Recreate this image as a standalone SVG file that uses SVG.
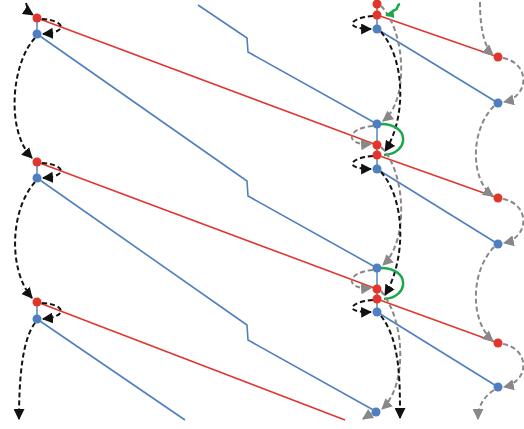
<svg xmlns="http://www.w3.org/2000/svg" width="524" height="429" viewBox="0 0 524 429">
<style>
.r{stroke:#e0372c;stroke-width:1.6;fill:none}
.b{stroke:#4f7fbf;stroke-width:1.6;fill:none}
.lb{stroke:#7ea2d6;stroke-width:2;fill:none}
.lr{stroke:#e86a60;stroke-width:2;fill:none}
.k{stroke:#111;stroke-width:2;fill:none;stroke-dasharray:5,3;marker-end:url(#ak)}
.g{stroke:#888;stroke-width:2;fill:none;stroke-dasharray:5,3;marker-end:url(#ag)}
.gr{stroke:#1aa84a;stroke-width:2.5;fill:none}
.nr{fill:#e0372c}
.nb{fill:#4f7fbf}
</style>
<defs>
<marker id="ak" viewBox="0 0 10 10" refX="9" refY="5" markerWidth="5.5" markerHeight="5.5" orient="auto" markerUnits="strokeWidth"><path d="M0,0L10,5L0,10z" fill="#111"/></marker>
<marker id="ag" viewBox="0 0 10 10" refX="9" refY="5" markerWidth="5.5" markerHeight="5.5" orient="auto" markerUnits="strokeWidth"><path d="M0,0L10,5L0,10z" fill="#888"/></marker>
<marker id="agr" viewBox="0 0 10 10" refX="9" refY="5" markerWidth="3.5" markerHeight="3.5" orient="auto" markerUnits="strokeWidth"><path d="M0,0L10,5L0,10z" fill="#1aa84a"/></marker>
</defs>
<g id="connectors">
<path class="r" d="M37,18L377,145"/>
<path class="r" d="M37,162L377,289"/>
<path class="r" d="M37,302L345,420"/>
<path class="r" d="M377,15L498,57"/>
<path class="r" d="M377,155L498,198"/>
<path class="r" d="M377,299L498,343"/>
<path class="b" d="M198,5L247,38L248,52L377,124"/>
<path class="b" d="M37,34L247,181L248,196L377,268"/>
<path class="b" d="M37,178L247,325L248,340L377,412"/>
<path class="b" d="M37,319L185,420"/>
<path class="b" d="M377,29L498,103"/>
<path class="b" d="M377,169L498,244"/>
<path class="b" d="M377,312L498,387"/>
<path class="lb" d="M37,18V34M37,162V178M37,302V319"/>
<path class="lr" d="M377,4V15M377,145V155M377,289V299"/>
<path class="lb" d="M377,15V29M377,124V145M377,155V169M377,268V289M377,299V312"/>
<path class="k" d="M26,3C28,10 30,13 33,15"/>
<path class="k" d="M42,19C64,20 70,32 43,34"/>
<path class="k" d="M35,38C12,62 5,130 32,158"/>
<path class="k" d="M42,163C64,164 70,176 43,178"/>
<path class="k" d="M35,182C10,210 8,270 32,298"/>
<path class="k" d="M42,303C64,304 70,316 43,319"/>
<path class="k" d="M35,323C22,340 19,380 19,419"/>
<path class="g" d="M381,6C405,30 410,100 383,121"/>
<path class="k" d="M373,16C348,18 344,29 371,29"/>
<path class="k" d="M381,32C406,60 406,120 385,151"/>
<path class="g" d="M373,126C346,128 344,146 371,144"/>
<path class="gr" d="M381,124C410,124 410,153 384,155"/>
<path class="gr" stroke-width="2.2" d="M400,4C396,5 399,9 395,10C391,11 393,14 386,15" marker-end="url(#agr)"/>
<path class="g" d="M381,147C405,170 410,240 383,265"/>
<path class="k" d="M373,156C348,158 344,169 371,169"/>
<path class="k" d="M381,172C406,200 406,260 385,295"/>
<path class="g" d="M373,270C346,272 344,290 371,288"/>
<path class="gr" d="M381,268C410,268 410,297 384,299"/>
<path class="g" d="M381,291C405,320 408,385 382,409"/>
<path class="k" d="M373,300C348,302 344,313 371,312"/>
<path class="k" d="M381,316C400,340 400,380 400,418"/>
<path class="g" d="M372,414C368,415 366,417 363,419"/>
<path class="g" d="M480,2C480,30 485,48 493,55"/>
<path class="g" d="M503,58C530,63 530,96 504,102"/>
<path class="g" d="M494,106C470,130 470,180 493,196"/>
<path class="g" d="M503,199C530,204 530,237 504,243"/>
<path class="g" d="M494,247C470,272 470,322 493,341"/>
<path class="g" d="M503,344C530,349 530,381 504,387"/>
<path class="g" d="M494,390C482,398 478,408 478,419"/>
</g>
<g id="n-l1r"><circle class="nr" cx="37" cy="18" r="4.5"/></g>
<g id="n-l1b"><circle class="nb" cx="37" cy="34" r="4.5"/></g>
<g id="n-l2r"><circle class="nr" cx="37" cy="162" r="4.5"/></g>
<g id="n-l2b"><circle class="nb" cx="37" cy="178" r="4.5"/></g>
<g id="n-l3r"><circle class="nr" cx="37" cy="302" r="4.5"/></g>
<g id="n-l3b"><circle class="nb" cx="37" cy="319" r="4.5"/></g>
<g id="n-m0r"><circle class="nr" cx="377" cy="4" r="4.5"/></g>
<g id="n-m1r"><circle class="nr" cx="377" cy="15" r="4.5"/></g>
<g id="n-m1b"><circle class="nb" cx="377" cy="29" r="4.5"/></g>
<g id="n-m2b"><circle class="nb" cx="377" cy="124" r="4.5"/></g>
<g id="n-m2r"><circle class="nr" cx="377" cy="145" r="4.5"/></g>
<g id="n-m3r"><circle class="nr" cx="377" cy="155" r="4.5"/></g>
<g id="n-m3b"><circle class="nb" cx="377" cy="169" r="4.5"/></g>
<g id="n-m4b"><circle class="nb" cx="377" cy="268" r="4.5"/></g>
<g id="n-m4r"><circle class="nr" cx="377" cy="289" r="4.5"/></g>
<g id="n-m5r"><circle class="nr" cx="377" cy="299" r="4.5"/></g>
<g id="n-m5b"><circle class="nb" cx="377" cy="312" r="4.5"/></g>
<g id="n-m6b"><circle class="nb" cx="376" cy="412" r="4.5"/></g>
<g id="n-r1r"><circle class="nr" cx="498" cy="57" r="4.5"/></g>
<g id="n-r1b"><circle class="nb" cx="498" cy="103" r="4.5"/></g>
<g id="n-r2r"><circle class="nr" cx="498" cy="198" r="4.5"/></g>
<g id="n-r2b"><circle class="nb" cx="498" cy="244" r="4.5"/></g>
<g id="n-r3r"><circle class="nr" cx="498" cy="343" r="4.5"/></g>
<g id="n-r3b"><circle class="nb" cx="498" cy="387" r="4.5"/></g>
</svg>
